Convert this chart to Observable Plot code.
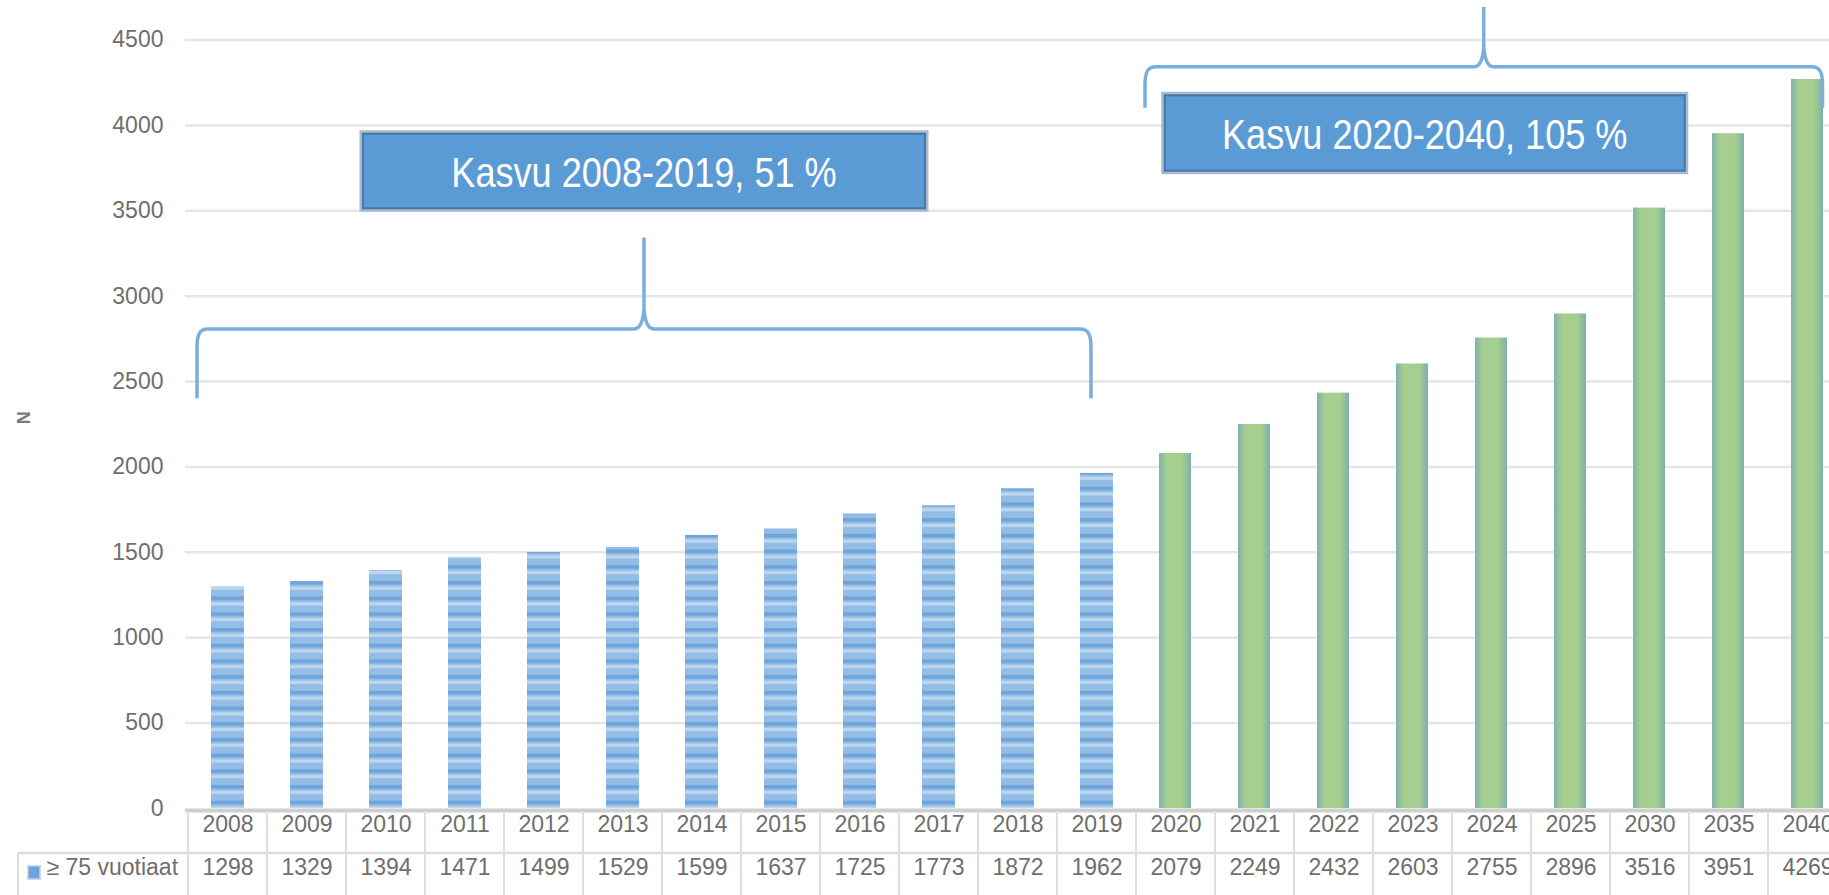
<!DOCTYPE html>
<html>
<head>
<meta charset="utf-8">
<script src="https://cdn.jsdelivr.net/npm/d3@7"></script>
<script src="https://cdn.jsdelivr.net/npm/@observablehq/plot@0.6"></script>
<style>
html, body { margin: 0; padding: 0; background: #ffffff; overflow: hidden; }
#chart svg { display: block; }
</style>
</head>
<body>
<svg width="0" height="0" style="position:absolute">
  <defs>
    <pattern id="blueStripes" patternUnits="userSpaceOnUse" width="10" height="15.7">
      <rect width="10" height="15.7" fill="#93bde6"/>
      <rect y="0" width="10" height="3.6" fill="#6fa4da"/>
      <rect y="5.6" width="10" height="3.3" fill="#bdd6ef"/>
    </pattern>
    <linearGradient id="greenGrad" x1="0" x2="1" y1="0" y2="0">
      <stop offset="0" stop-color="#7fb2ab"/>
      <stop offset="0.25" stop-color="#a5ce8f"/>
      <stop offset="0.72" stop-color="#a5ce8f"/>
      <stop offset="1" stop-color="#7db1ab"/>
    </linearGradient>
  </defs>
</svg>
<div id="chart"></div>
<script>
// ---- data ----
const years = ["2008","2009","2010","2011","2012","2013","2014","2015","2016","2017","2018","2019",
               "2020","2021","2022","2023","2024","2025","2030","2035","2040"];
const counts = [1298,1329,1394,1471,1499,1529,1599,1637,1725,1773,1872,1962,
                2079,2249,2432,2603,2755,2896,3516,3951,4269];
const firstProjectedYear = "2020";
const yTicks = [0,500,1000,1500,2000,2500,3000,3500,4000,4500];
const seriesLabel = "≥ 75 vuotiaat";
const axisLabel = "N";
const spanFrom = ["2008","2020"];
const spanTo = ["2019","2040"];
const spanLabels = ["Kasvu 2008-2019, 51 %", "Kasvu 2020-2040, 105 %"];

// ---- layout (annotation placement) ----
const braceLayout = [
  {endFrac: 0.43, level: 2805, end: 2400, peak: 3340, boxTop: 3960, boxBottom: 3500, boxDx: 0, boxW: 566},
  {endFrac: 0.69, level: 4340, end: 4100, peak: 4690, boxTop: 4185, boxBottom: 3720, boxDx: -59, boxW: 524}
];

const FONT = "'Liberation Sans', Arial, sans-serif";
const TEXT = "#6e6e6e";
const FS = 23;

const pIdx = years.indexOf(firstProjectedYear);
const rows = years.map((yr, i) => ({year: yr, n: counts[i], projected: i >= pIdx}));

function bwOf(x) { return typeof x.bandwidth === "function" ? x.bandwidth() : x.bandwidth; }

function tableGrid(index, scales, values, dims) {
  const x = scales.x, y = scales.y, bw = bwOf(x);
  const y0 = y(0), H = dims.height, W = dims.width;
  const g = d3.create("svg:g");
  const sep = y0 + 45;
  const edges = years.map(v => x(v)).concat([x(years[years.length - 1]) + bw]);
  g.selectAll("line.v").data(edges).join("line")
    .attr("x1", d => d).attr("x2", d => d)
    .attr("y1", y0 + 3).attr("y2", H)
    .attr("stroke", "#dedede").attr("stroke-width", 2);
  g.append("line").attr("x1", 18).attr("x2", W).attr("y1", sep).attr("y2", sep)
    .attr("stroke", "#dedede").attr("stroke-width", 2.5);
  g.append("line").attr("x1", 18).attr("x2", 18).attr("y1", sep).attr("y2", H)
    .attr("stroke", "#dedede").attr("stroke-width", 2);
  g.append("rect").attr("x", 28).attr("y", y0 + 58).attr("width", 12).attr("height", 13)
    .attr("fill", "#6fa3da").attr("stroke", "#b4cfec").attr("stroke-width", 1.5);
  return g.node();
}

function braces(index, scales) {
  const x = scales.x, y = scales.y, bw = bwOf(x);
  const g = d3.create("svg:g");
  spanFrom.forEach((from, i) => {
    const L = braceLayout[i];
    const xa = x(from) + 9;
    const xb = x(spanTo[i]) + bw * L.endFrac;
    const xc = (xa + xb) / 2;
    const yH = y(L.level), yE = y(L.end), yP = y(L.peak);
    const d = `M${xa},${yE} L${xa},${yH + 18} C${xa},${yH + 5} ${xa + 3},${yH} ${xa + 11},${yH}` +
              ` L${xc - 10},${yH} C${xc - 4},${yH} ${xc - 1},${yH - 6} ${xc},${yH - 20} L${xc},${yP}` +
              ` M${xc},${yH - 20} C${xc + 1},${yH - 6} ${xc + 4},${yH} ${xc + 10},${yH}` +
              ` L${xb - 11},${yH} C${xb - 3},${yH} ${xb},${yH + 5} ${xb},${yH + 18} L${xb},${yE}`;
    g.append("path").attr("d", d).attr("fill", "none")
      .attr("stroke", "#7aaede").attr("stroke-width", 3.5).attr("stroke-linejoin", "round");
    const bx = xc + L.boxDx - L.boxW / 2;
    const by = y(L.boxTop), bh = y(L.boxBottom) - y(L.boxTop);
    g.append("rect").attr("x", bx).attr("y", by).attr("width", L.boxW).attr("height", bh)
      .attr("fill", "#5b9bd5").attr("stroke", "#a9bbcd").attr("stroke-width", 3);
    g.append("rect").attr("x", bx + 2).attr("y", by + 2).attr("width", L.boxW - 4).attr("height", bh - 4)
      .attr("fill", "#5b9bd5").attr("stroke", "#4677a6").attr("stroke-width", 2);
    g.append("text")
      .attr("transform", `translate(${xc + L.boxDx},${by + bh / 2 + 1}) scale(0.84,1)`)
      .attr("text-anchor", "middle").attr("dominant-baseline", "central")
      .attr("fill", "#ffffff").attr("font-size", 43).attr("font-family", FONT)
      .text(spanLabels[i]);
  });
  return g.node();
}

const chart = Plot.plot({
  width: 1829,
  height: 895,
  marginLeft: 185,
  marginRight: 0,
  marginTop: 39.5,
  marginBottom: 87,
  x: {domain: years, range: [186, 1849], padding: 0, axis: null},
  y: {domain: [0, 4500], range: [808, 39.5], axis: null},
  style: {background: "#ffffff", overflow: "hidden", fontFamily: FONT},
  marks: [
    Plot.ruleY(yTicks.filter(t => t > 0), {stroke: "#e6e6e6", strokeWidth: 2.5}),
    Plot.barY(rows.filter(d => !d.projected), {x: "year", y: "n", fill: "url(#blueStripes)", insetLeft: 23, insetRight: 23}),
    Plot.barY(rows.filter(d => d.projected), {x: "year", y: "n", fill: "url(#greenGrad)", insetLeft: 23, insetRight: 24}),
    Plot.ruleY([0], {stroke: "#cfcfcf", strokeWidth: 4, dy: 2}),
    tableGrid,
    braces,
    Plot.text(yTicks, {y: d => d, text: d => String(d), frameAnchor: "left", dx: -22, textAnchor: "end",
                       fontSize: FS, fill: TEXT}),
    Plot.text(years, {x: d => d, text: d => d, frameAnchor: "bottom", dy: 23, fontSize: FS, fill: TEXT}),
    Plot.text(rows, {x: "year", text: d => String(d.n), frameAnchor: "bottom", dy: 66, fontSize: FS, fill: TEXT}),
    Plot.text([seriesLabel], {frameAnchor: "bottom-left", dx: -139, dy: 66, textAnchor: "start",
                              fontSize: FS, fill: TEXT}),
    Plot.text([axisLabel], {frameAnchor: "left", dx: -161, rotate: -90, fontSize: 18, fontWeight: "bold", fill: "#7a7a7a"})
  ]
});
document.getElementById("chart").appendChild(chart);
</script>
</body>
</html>
